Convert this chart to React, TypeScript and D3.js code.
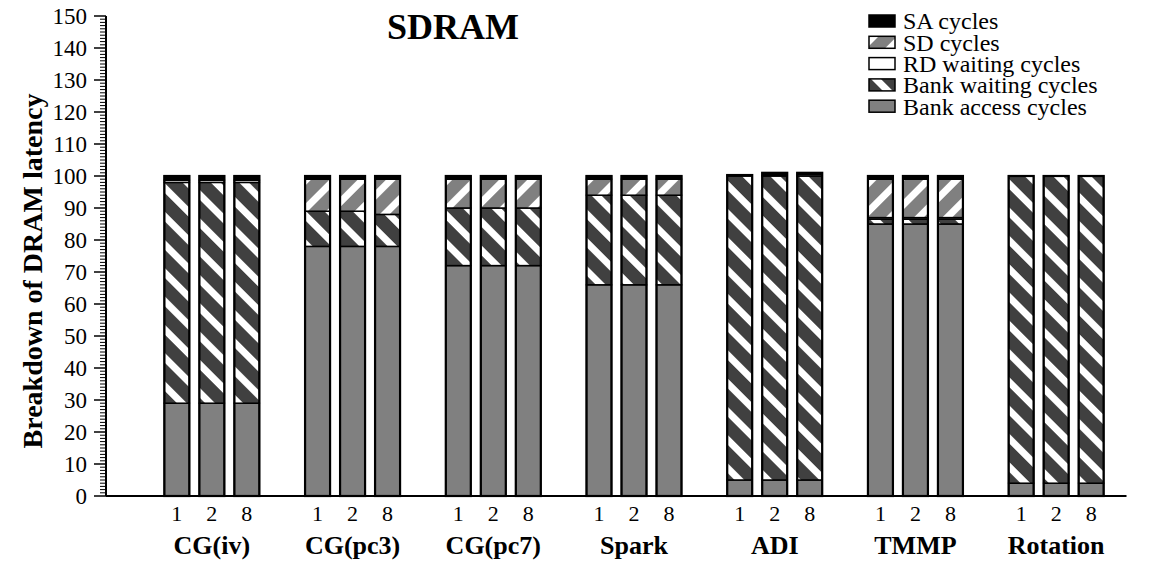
import React from 'react';
import * as d3 from 'd3';

// Benchmarks and the three configurations measured for each
const groups = ['CG(iv)', 'CG(pc3)', 'CG(pc7)', 'Spark', 'ADI', 'TMMP', 'Rotation'];
const configs = ['1', '2', '8'];

// Latency components (percent), one row per benchmark, one value per configuration
const bankAccess = [[29, 29, 29], [78, 78, 78], [72, 72, 72], [66, 66, 66], [5, 5, 5], [85, 85, 85], [4, 4, 4]];
const bankWaiting = [[69, 69, 69], [11, 11, 10], [18, 18, 18], [28, 28, 28], [95, 95, 95], [1.5, 1.5, 1.5], [96, 96, 96]];
const rdWaiting = [[0.7, 0.7, 0.7], [0, 0, 0], [0, 0, 0], [0, 0, 0], [0, 0, 0.5], [0.5, 0.5, 0.5], [0, 0, 0]];
const sdCycles = [[0, 0, 0], [10, 10, 11], [9, 9, 9], [5, 5, 5], [0, 0, 0], [12, 12, 12], [0, 0, 0]];
const saCycles = [[1.3, 1.3, 1.3], [1, 1, 1], [1, 1, 1], [1, 1, 1], [0.3, 1, 0.5], [1, 1, 1], [0, 0, 0]];

const yTickValues = [0, 10, 20, 30, 40, 50, 60, 70, 80, 90, 100, 110, 120, 130, 140, 150];

const keys = ['access', 'waiting', 'rd', 'sd', 'sa'];
const legendItems = [
  { key: 'sa', label: 'SA cycles' },
  { key: 'sd', label: 'SD cycles' },
  { key: 'rd', label: 'RD waiting cycles' },
  { key: 'waiting', label: 'Bank waiting cycles' },
  { key: 'access', label: 'Bank access cycles' },
];

const fills: Record<string, string> = {
  access: '#808080',
  waiting: 'url(#hatchWait)',
  rd: '#ffffff',
  sd: 'url(#hatchSD)',
  sa: '#000000',
};

const FONT = 'Liberation Serif, serif';

export default function App() {
  const W = 1161;
  const H = 563;
  const axisX = 106;

  const y = d3.scaleLinear().domain([0, 150]).range([496, 16]);
  const x0 = d3.scaleBand<string>().domain(groups).range([141.5, 1126.5]).padding(0);
  const x1 = d3.scaleBand<string>().domain(configs).range([-47.5, 47.5]).paddingInner(10 / 35).paddingOuter(0);

  type Row = { group: string; config: string; [k: string]: number | string };
  const rows: Row[] = [];
  groups.forEach((g, gi) => {
    configs.forEach((c, ci) => {
      rows.push({
        group: g,
        config: c,
        access: bankAccess[gi][ci],
        waiting: bankWaiting[gi][ci],
        rd: rdWaiting[gi][ci],
        sd: sdCycles[gi][ci],
        sa: saCycles[gi][ci],
      });
    });
  });

  const stacked = d3.stack<Row>().keys(keys).value((d, k) => d[k] as number)(rows);
  const totals = rows.map((r) => keys.reduce((s, k) => s + (r[k] as number), 0));

  const cx = (r: Row) => (x0(r.group) as number) + x0.bandwidth() / 2 + (x1(r.config) as number);

  const minorTicks = d3.range(0, 151, 1).filter((v) => v % 10 !== 0);

  const txt = { fontFamily: FONT };

  return (
    <svg width={W} height={H} style={{ position: 'absolute', left: 0, top: 0, background: '#fff', fontFamily: FONT }}>
      <defs>
        <pattern id="hatchWait" patternUnits="userSpaceOnUse" width={20} height={20} patternTransform="rotate(-45)">
          <rect width={20} height={20} fill="#404040" />
          <rect width={7} height={20} fill="#ffffff" />
        </pattern>
        <pattern id="hatchSD" patternUnits="userSpaceOnUse" width={20} height={20} patternTransform="rotate(45)">
          <rect width={20} height={20} fill="#808080" />
          <rect width={7} height={20} fill="#ffffff" />
        </pattern>
      </defs>

      {/* stacked bars */}
      {stacked.map((layer) => (
        <g key={layer.key}>
          {layer.map((seg, i) => {
            const r = rows[i];
            if (seg[1] - seg[0] <= 0) return null;
            const bx = cx(r);
            return (
              <rect
                key={i}
                x={bx}
                y={y(seg[1])}
                width={x1.bandwidth()}
                height={y(seg[0]) - y(seg[1])}
                fill={fills[layer.key]}
                stroke="#000"
                strokeWidth={1.5}
              />
            );
          })}
        </g>
      ))}
      {rows.map((r, i) => (
        <rect
          key={'o' + i}
          x={cx(r)}
          y={y(totals[i])}
          width={x1.bandwidth()}
          height={y(0) - y(totals[i])}
          fill="none"
          stroke="#000"
          strokeWidth={2.2}
        />
      ))}

      {/* y axis */}
      <line x1={axisX} x2={axisX} y1={y(150)} y2={y(0)} stroke="#000" strokeWidth={2} />
      {minorTicks.map((v) => (
        <line key={'m' + v} x1={axisX - 6} x2={axisX} y1={y(v)} y2={y(v)} stroke="#000" strokeWidth={1} />
      ))}
      {yTickValues.map((v) => (
        <g key={'t' + v}>
          <line x1={axisX - 12} x2={axisX} y1={y(v)} y2={y(v)} stroke="#000" strokeWidth={1.5} />
          <text style={txt} x={axisX - 19} y={y(v)} dy="0.35em" textAnchor="end" fontSize={23}>
            {v}
          </text>
        </g>
      ))}

      {/* x axis */}
      <line x1={axisX} x2={1126.5} y1={y(0)} y2={y(0)} stroke="#000" strokeWidth={2} />
      {rows.map((r, i) => (
        <text style={txt} key={'c' + i} x={cx(r) + x1.bandwidth() / 2} y={521} textAnchor="middle" fontSize={22}>
          {r.config}
        </text>
      ))}
      {groups.map((g) => (
        <text style={txt} key={g} x={(x0(g) as number) + x0.bandwidth() / 2} y={554} textAnchor="middle" fontSize={26} fontWeight="bold">
          {g}
        </text>
      ))}

      {/* axis title and chart title */}
      <text
        style={txt}
        transform={`translate(32, 271) rotate(-90)`}
        textAnchor="middle"
        dy="0.35em"
        fontSize={28}
        fontWeight="bold"
      >
        Breakdown of DRAM latency
      </text>
      <text style={txt} x={453} y={39} textAnchor="middle" fontSize={36} fontWeight="bold">
        SDRAM
      </text>

      {/* legend */}
      {legendItems.map((item, i) => {
        const cy = 21 + i * 21.3;
        return (
          <g key={item.key}>
            <rect x={869} y={cy - 6} width={26} height={12} fill={fills[item.key]} stroke="#000" strokeWidth={1.5} />
            <text style={txt} x={903} y={cy} dy="0.35em" fontSize={24}>
              {item.label}
            </text>
          </g>
        );
      })}
    </svg>
  );
}
